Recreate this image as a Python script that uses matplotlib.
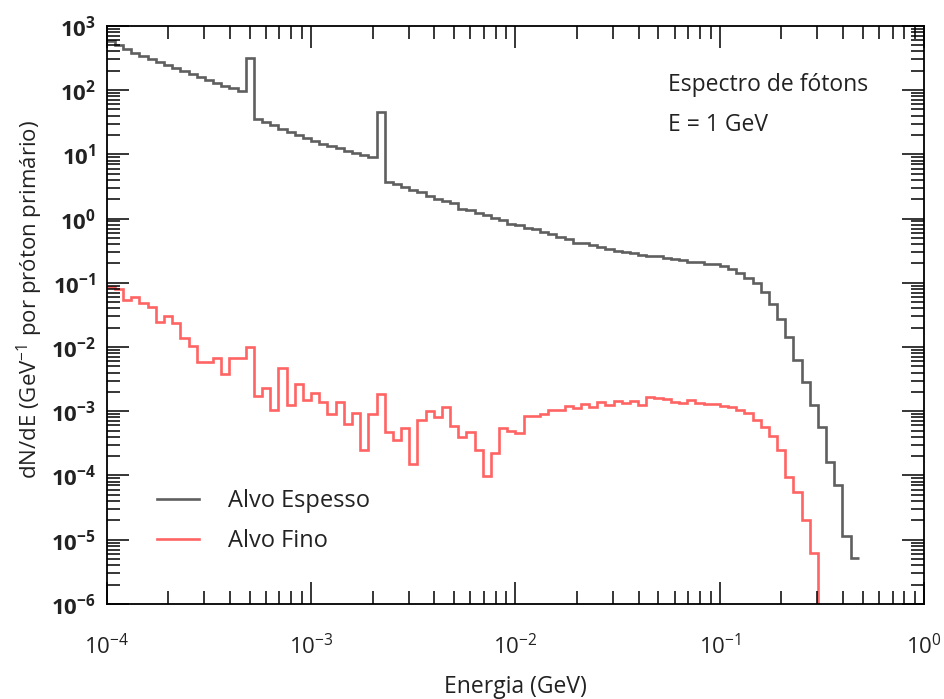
"""Espectro de fótons: histograma em passos, alvo espesso vs alvo fino."""

import numpy as np
import matplotlib
matplotlib.use("Agg")
from matplotlib import pyplot as plt
from matplotlib.ticker import LogLocator, FuncFormatter, NullFormatter

plt.rcParams['font.family'] = ['Open Sans', 'DejaVu Sans']
plt.rcParams['mathtext.fontset'] = 'custom'
plt.rcParams['mathtext.rm'] = 'Open Sans'
plt.rcParams['mathtext.bf'] = 'Open Sans:bold'
plt.rcParams['mathtext.it'] = 'Open Sans:italic'

# 100 bins logaritmicos entre 1e-4 e 1 GeV
n_bins = 100
e_min, e_max = 1e-4, 1.0

# alvo espesso (bins 0..91)
espesso = [
    583, 506, 431, 380, 341, 306, 275, 242, 222, 199,
    179, 161, 144, 130, 116, 106, 97, 321, 35.2, 32.0,
    28.2, 24.9, 22.3, 19.7, 17.7, 15.9, 14.5, 13.3, 12.4, 11.3,
    10.5, 9.8, 9.1, 46.2, 3.76, 3.46, 3.10, 2.79, 2.59, 2.25,
    2.02, 1.88, 1.73, 1.41, 1.36, 1.22, 1.14, 1.02, 0.95, 0.82,
    0.79, 0.71, 0.69, 0.62, 0.575, 0.52, 0.48, 0.42, 0.417, 0.388,
    0.361, 0.336, 0.316, 0.302, 0.291, 0.271, 0.261, 0.261, 0.243, 0.232,
    0.226, 0.213, 0.207, 0.196, 0.193, 0.183, 0.162, 0.144, 0.117, 0.098,
    0.0727, 0.0467, 0.0270, 0.0141, 0.00628, 0.00288, 0.00125, 5.74e-4, 1.63e-4, 7.08e-5,
    1.14e-5, 5.1e-6,
]

# alvo fino (bins 0..87, o ultimo vazio)
fino = [
    0.0869, 0.0792, 0.0540, 0.0594, 0.0480, 0.0415, 0.0248, 0.0307, 0.0234, 0.0137,
    0.0104, 0.00591, 0.00591, 0.00667, 0.00380, 0.00681, 0.00681, 0.0101, 0.00173, 0.00228,
    0.00105, 0.00466, 0.00125, 0.00265, 0.00149, 0.00195, 0.00137, 9.04e-4, 0.00137, 6.32e-4,
    9.55e-4, 2.53e-4, 9.2e-4, 0.00185, 4.80e-4, 3.62e-4, 5.47e-4, 1.51e-4, 7.30e-4, 1.02e-3,
    8.13e-4, 1.18e-3, 5.87e-4, 4.01e-4, 4.80e-4, 2.49e-4, 9.8e-5, 2.26e-4, 5.42e-4, 4.97e-4,
    4.62e-4, 8.42e-4, 8.42e-4, 9.04e-4, 1.04e-3, 1.04e-3, 1.20e-3, 1.11e-3, 1.29e-3, 1.18e-3,
    1.39e-3, 1.26e-3, 1.46e-3, 1.33e-3, 1.46e-3, 1.25e-3, 1.65e-3, 1.58e-3, 1.53e-3, 1.39e-3,
    1.36e-3, 1.49e-3, 1.33e-3, 1.29e-3, 1.29e-3, 1.20e-3, 1.18e-3, 1.04e-3, 9.27e-4, 7.30e-4,
    5.61e-4, 4.11e-4, 2.49e-4, 9.55e-5, 5.57e-5, 2.02e-5, 6.25e-6, 0.0,
]

edges = np.logspace(np.log10(e_min), np.log10(e_max), n_bins + 1)

fig = plt.figure(figsize=(9.45, 6.99), dpi=100)
ax = fig.add_axes([0.113, 0.136, 0.865, 0.827])

ax.set_xscale('log')
ax.set_yscale('log')

ax.stairs(espesso, edges[:len(espesso) + 1], baseline=None,
          color='#5f5f5f', lw=1.9, label='Alvo Espesso')
ax.stairs(fino, edges[:len(fino) + 1], baseline=None,
          color='#ff6464', lw=1.9, label='Alvo Fino')

ax.set_xlim(e_min, e_max)
ax.set_ylim(1e-6, 1e3)

for loc_ax in (ax.xaxis, ax.yaxis):
    loc_ax.set_major_locator(LogLocator(base=10, numticks=20))
    loc_ax.set_minor_locator(LogLocator(base=10, subs=np.arange(2, 10), numticks=20))
    loc_ax.set_minor_formatter(NullFormatter())

ax.xaxis.set_major_formatter(FuncFormatter(lambda v, _: r'$10^{%d}$' % round(np.log10(v))))
ax.yaxis.set_major_formatter(FuncFormatter(lambda v, _: r'$\mathbf{10^{%d}}$' % round(np.log10(v))))

ax.tick_params(which='both', direction='in', top=True, right=True, width=1.1, color='black')
ax.tick_params(which='major', length=15.5)
ax.tick_params(which='minor', length=9.5)
ax.tick_params(axis='x', which='major', pad=22, labelsize=16, labelcolor='#222222')
ax.tick_params(axis='y', which='major', pad=8, labelsize=16, labelcolor='#222222')

for sp in ax.spines.values():
    sp.set_linewidth(1.3)

ax.set_xlabel('Energia (GeV)', fontsize=16.5, color='#222222', fontweight='medium')
ax.set_ylabel(r'dN/dE (GeV$^{-1}$ por próton primário)', fontsize=16,
              color='#222222', fontweight='medium')
ax.xaxis.set_label_coords(0.5, -0.123)
ax.yaxis.set_label_coords(-0.076, 0.526)

ax.text(0.687, 0.898, 'Espectro de fótons', transform=ax.transAxes,
        fontsize=16.5, va='center', ha='left', color='#222222', fontweight='medium')
ax.text(0.687, 0.829, 'E = 1 GeV', transform=ax.transAxes,
        fontsize=16.5, va='center', ha='left', color='#222222', fontweight='medium')

leg = ax.legend(loc='center left', bbox_to_anchor=(0.036, 0.143), frameon=False,
                fontsize=17, handlelength=1.78, handletextpad=1.19, labelspacing=0.68)
for t in leg.get_texts():
    t.set_color('#222222')
    t.set_fontweight('medium')

fig.savefig('out.png', dpi=100)
